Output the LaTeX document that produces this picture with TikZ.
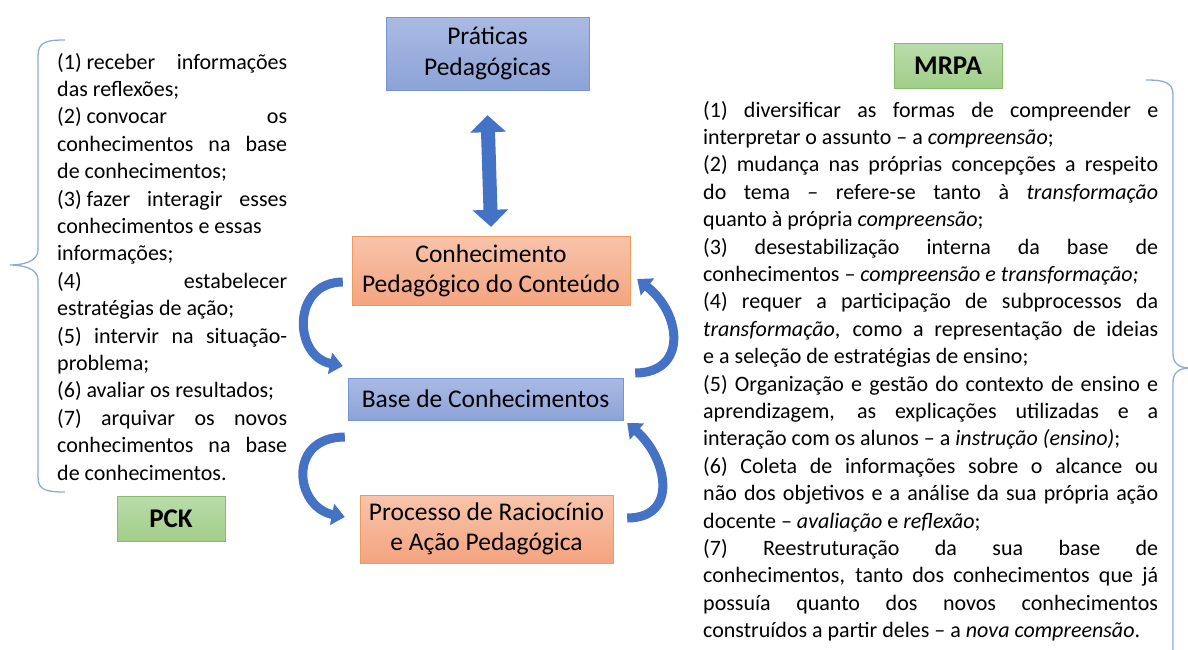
\documentclass[tikz,border=0pt]{standalone}
\usepackage{fontspec}
\setmainfont{Carlito}
\usepackage{xcolor}
\usetikzlibrary{arrows.meta, positioning, calc}

\definecolor{arrblue}{HTML}{4472C4}
\definecolor{bluetop}{HTML}{AABAE3}
\definecolor{bluebot}{HTML}{8CA3D8}
\definecolor{bluedge}{HTML}{7496D6}
\definecolor{orgtop}{HTML}{F8C4AB}
\definecolor{orgbot}{HTML}{F4A47F}
\definecolor{orgedge}{HTML}{F0995A}
\definecolor{grntop}{HTML}{BADCAA}
\definecolor{grnbot}{HTML}{A1CE89}
\definecolor{grnedge}{HTML}{86BD6B}
\definecolor{bracecol}{HTML}{8EA9DB}

\newcommand{\numsp}{\hspace{0.22em}}

\begin{document}
\begin{tikzpicture}[
    x=1pt, y=-1pt,
    bluebox/.style={draw=bluedge, top color=bluetop, bottom color=bluebot, align=center, inner sep=0pt, font=\fontsize{25.5}{31}\selectfont},
    orgbox/.style={draw=orgedge, top color=orgtop, bottom color=orgbot, align=center, inner sep=0pt, font=\fontsize{25.5}{30}\selectfont},
    tagbox/.style={draw=grnedge, line width=1pt, top color=grntop, bottom color=grnbot, minimum width=108pt, minimum height=45pt, inner sep=0pt, font=\fontsize{27}{30}\selectfont\bfseries},
    listtext/.style={anchor=base west, inner sep=0pt, align=justify, font=\fontsize{22}{27.4}\selectfont},
    curarr/.style={draw=arrblue, line width=9pt, -{Triangle[width=21pt, length=13pt]}},
    dblarr/.style={draw=arrblue, line width=14pt, {Triangle[width=35pt, length=17pt]}-{Triangle[width=35pt, length=17pt]}},
    brace/.style={draw=bracecol, line width=1.3pt}
]
\useasboundingbox (0,0) rectangle (1188,649);

% Central boxes
\node[bluebox, minimum width=203pt, minimum height=73pt] (prat) at (487.5, 53.5) {Práticas\\Pedagógicas};
\node[orgbox, minimum width=278pt, minimum height=69pt] (cpc) at (491, 270.5) {Conhecimento\\Pedagógico do Conteúdo};
\node[bluebox, minimum width=275pt, minimum height=42pt] (base) at (485.5, 399) {Base de Conhecimentos};
\node[orgbox, minimum width=253pt, minimum height=68pt] (proc) at (486.5, 529) {Processo de Raciocínio\\e Ação Pedagógica};

% Tags
\node[tagbox] (pck) at (171, 518.5) {PCK};
\node[tagbox] (mrpa) at (948, 65.5) {MRPA};

% Double arrow
\draw[dblarr] ($(prat.south)+(0,25)$) -- ($(cpc.north)+(0,-9)$);

% Curved arrows
\coordinate (c1s) at ($(cpc.west)+(-9,11.5)$);
\coordinate (c1e) at ($(base.west)+(-5,-33)$);
\coordinate (c2s) at ($(base.east)+(12,-26)$);
\coordinate (c2e) at ($(cpc.east)+(7,8.5)$);
\coordinate (c3s) at ($(base.west)+(-3,38)$);
\coordinate (c3e) at ($(proc.west)+(-15,-12)$);
\coordinate (c4s) at ($(proc.east)+(14,-11)$);
\coordinate (c4e) at ($(base.east)+(4,24)$);
\draw[curarr] (c1s) .. controls +(-51,0) and +(-50,-10) .. (c1e);
\draw[curarr] (c2s) .. controls +(52,0) and +(45,35) .. (c2e);
\draw[curarr] (c3s) .. controls +(-58,0) and +(-50,-10) .. (c3e);
\draw[curarr] (c4s) .. controls +(52,0) and +(40,35) .. (c4e);

% Left list
\node[listtext, text width=230pt] (pcklist) at (57, 69) {%
(1)\numsp receber informações\linebreak das reflexões;\par
(2)\numsp convocar os\linebreak conhecimentos na base\linebreak de conhecimentos;\par
(3)\numsp fazer interagir esses\linebreak conhecimentos e essas\\informações;\par
(4) estabelecer\linebreak estratégias de ação;\par
(5) intervir na situação-\linebreak problema;\par
(6)\numsp avaliar os resultados;\par
(7) arquivar os novos\linebreak conhecimentos na base\linebreak de conhecimentos.};

% Right list
\node[listtext, text width=455pt] (mrpalist) at (703, 117) {%
(1) diversificar as formas de compreender e\linebreak interpretar o assunto – a \textit{compreensão};\par
(2) mudança nas próprias concepções a respeito\linebreak do tema – refere-se tanto à \textit{transformação}\linebreak quanto à própria \textit{compreensão};\par
(3) desestabilização interna da base de\linebreak conhecimentos – \textit{compreensão e transformação;}\par
(4) requer a participação de subprocessos da\linebreak \textit{transformação}, como a representação de ideias\linebreak e a seleção de estratégias de ensino;\par
(5) Organização e gestão do contexto de ensino e\linebreak aprendizagem, as explicações utilizadas e a\linebreak interação com os alunos – a \textit{instrução (ensino)};\par
(6) Coleta de informações sobre o alcance ou\linebreak não dos objetivos e a análise da sua própria ação\linebreak docente – \textit{avaliação} e \textit{reflexão};\par
(7) Reestruturação da sua base de\linebreak conhecimentos, tanto dos conhecimentos que já\linebreak possuía quanto dos novos conhecimentos\linebreak construídos a partir deles – a \textit{nova compreensão}.};

% Braces
\draw[brace] (65,40) .. controls (46,40) and (38,42) .. (38,56) -- (38,250)
    .. controls (38,262) and (22,265) .. (10,265)
    .. controls (22,265) and (38,268) .. (38,280) -- (38,477)
    .. controls (38,490) and (46,492) .. (65,492);
\draw[brace] (1146,80) .. controls (1164,80) and (1173,82) .. (1173,95) -- (1173,354)
    .. controls (1173,364) and (1180,368) .. (1190,368)
    .. controls (1180,368) and (1173,372) .. (1173,382) -- (1173,660);

\end{tikzpicture}
\end{document}
